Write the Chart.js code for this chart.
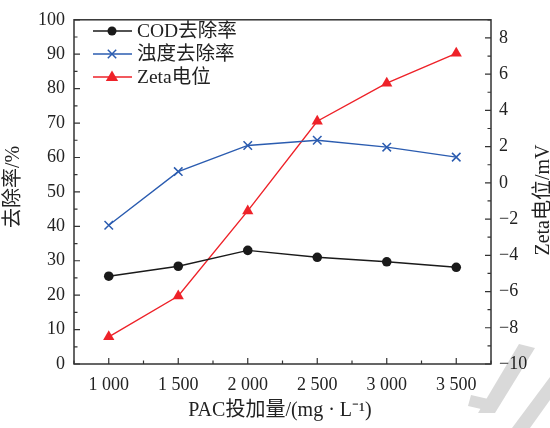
<!DOCTYPE html>
<html>
<head>
<meta charset="utf-8">
<script src="https://cdn.jsdelivr.net/npm/chart.js@4/dist/chart.umd.min.js"></script>
<style>
  html, body { margin: 0; padding: 0; background: #fff; }
  #wrap { width: 550px; height: 428px; }
</style>
</head>
<body>
<div id="wrap"><canvas id="chart" width="550" height="428"></canvas></div>
<script>
// datos
const dosis = [1000, 1500, 2000, 2500, 3000, 3500];
const codRemocion = [25.5, 28.4, 33.0, 31.0, 29.7, 28.1];
const turbidezRemocion = [40.3, 55.9, 63.5, 65.0, 63.0, 60.1];
const zeta = [-8.5, -6.25, -1.55, 3.4, 5.5, 7.15];

const etiquetas = ['COD去除率', '浊度去除率', 'Zeta电位'];
const colores = ['#1a1a1a', '#2b5cb0', '#ee2229'];

const fuente = "'Liberation Serif', 'Noto Sans CJK SC', serif";

function pares(ys) {
    return dosis.map((x, i) => ({ x: x, y: ys[i] }));
}

function formatoMiles(v) {
    const s = String(v);
    return s.length > 3 ? s.slice(0, s.length - 3) + ' ' + s.slice(-3) : s;
}

function dibujarMarcador(ctx, tipo, x, y, color) {
    ctx.save();
    ctx.fillStyle = color;
    ctx.strokeStyle = color;
    ctx.lineWidth = 1.5;
    ctx.beginPath();
    if (tipo === 'circle') {
        ctx.arc(x, y, 4.5, 0, Math.PI * 2);
        ctx.fill();
    } else if (tipo === 'crossRot') {
        const r = 4.2;
        ctx.moveTo(x - r, y - r); ctx.lineTo(x + r, y + r);
        ctx.moveTo(x + r, y - r); ctx.lineTo(x - r, y + r);
        ctx.stroke();
    } else {
        const r = 6.5;
        ctx.moveTo(x, y - r);
        ctx.lineTo(x + r * 0.95, y + r * 0.6);
        ctx.lineTo(x - r * 0.95, y + r * 0.6);
        ctx.closePath();
        ctx.fill();
    }
    ctx.restore();
}

// marca de agua gris de fondo
const marcaAgua = {
    id: 'marcaAgua',
    beforeDraw(chart) {
        const ctx = chart.ctx;
        ctx.save();
        ctx.fillStyle = '#d9d9d9';
        ctx.beginPath();
        ctx.moveTo(478, 413); ctx.lineTo(519, 344); ctx.lineTo(535, 348); ctx.lineTo(495, 413);
        ctx.closePath(); ctx.fill();
        ctx.beginPath();
        ctx.moveTo(471, 395); ctx.lineTo(497, 401); ctx.lineTo(494, 412); ctx.lineTo(468, 406);
        ctx.closePath(); ctx.fill();
        ctx.beginPath();
        ctx.moveTo(512, 428); ctx.lineTo(550, 377); ctx.lineTo(550, 400); ctx.lineTo(530, 428);
        ctx.closePath(); ctx.fill();
        ctx.restore();
    }
};

// marco, ticks hacia dentro, títulos y leyenda
const decoracion = {
    id: 'decoracion',
    afterDraw(chart) {
        const ctx = chart.ctx;
        const a = chart.chartArea;
        const sx = chart.scales.x, sy = chart.scales.y, sy1 = chart.scales.y1;
        ctx.save();
        ctx.strokeStyle = '#333';
        ctx.lineWidth = 1.5;
        ctx.strokeRect(a.left, a.top, a.right - a.left, a.bottom - a.top);

        ctx.lineWidth = 1.2;
        ctx.beginPath();
        sx.ticks.forEach(t => {
            const px = sx.getPixelForValue(t.value);
            const len = t.value % 500 === 0 ? 6 : 3.5;
            ctx.moveTo(px, a.bottom); ctx.lineTo(px, a.bottom - len);
        });
        sy.ticks.forEach(t => {
            const py = sy.getPixelForValue(t.value);
            const len = t.value % 10 === 0 ? 6 : 3.5;
            ctx.moveTo(a.left, py); ctx.lineTo(a.left + len, py);
        });
        sy1.ticks.forEach(t => {
            const py = sy1.getPixelForValue(t.value);
            const len = t.value % 2 === 0 ? 6 : 3.5;
            ctx.moveTo(a.right, py); ctx.lineTo(a.right - len, py);
        });
        ctx.stroke();

        ctx.fillStyle = '#222';
        ctx.font = '20px ' + fuente;
        ctx.textAlign = 'center';
        ctx.textBaseline = 'middle';
        ctx.fillText('PAC投加量/(mg · L⁻¹)', 280, 411);

        ctx.save();
        ctx.translate(14, 187);
        ctx.rotate(-Math.PI / 2);
        ctx.fillText('去除率/%', 0, 0);
        ctx.restore();

        ctx.save();
        ctx.translate(544, 200);
        ctx.rotate(-Math.PI / 2);
        ctx.fillText('Zeta电位/mV', 0, 0);
        ctx.restore();

        // leyenda
        const tipos = ['circle', 'crossRot', 'triangle'];
        const ys = [31, 54, 77];
        ctx.font = '19.5px ' + fuente;
        ctx.textAlign = 'left';
        etiquetas.forEach((txt, i) => {
            ctx.strokeStyle = colores[i];
            ctx.lineWidth = 1.4;
            ctx.beginPath();
            ctx.moveTo(93, ys[i]); ctx.lineTo(132, ys[i]);
            ctx.stroke();
            dibujarMarcador(ctx, tipos[i], 112, ys[i], colores[i]);
            ctx.fillStyle = '#222';
            ctx.fillText(txt, 137, ys[i] + 1);
        });
        ctx.restore();
    }
};

const ejeTicks = { family: fuente, size: 18 };

const ctx = document.getElementById('chart').getContext('2d');
new Chart(ctx, {
    type: 'line',
    data: {
        datasets: [
            {
                label: etiquetas[0],
                data: pares(codRemocion),
                yAxisID: 'y',
                borderColor: colores[0],
                backgroundColor: colores[0],
                borderWidth: 1.4,
                pointStyle: 'circle',
                pointRadius: 4.8,
                pointBorderWidth: 0
            },
            {
                label: etiquetas[1],
                data: pares(turbidezRemocion),
                yAxisID: 'y',
                borderColor: colores[1],
                backgroundColor: colores[1],
                borderWidth: 1.4,
                pointStyle: 'crossRot',
                pointRadius: 6,
                pointBorderWidth: 1.5
            },
            {
                label: etiquetas[2],
                data: pares(zeta),
                yAxisID: 'y1',
                borderColor: colores[2],
                backgroundColor: colores[2],
                borderWidth: 1.4,
                pointStyle: 'triangle',
                pointRadius: 6.5,
                pointBorderWidth: 0
            }
        ]
    },
    options: {
        responsive: false,
        animation: false,
        layout: { padding: { top: 15, left: 0, right: 0, bottom: 0 } },
        plugins: {
            legend: { display: false },
            tooltip: { enabled: false }
        },
        scales: {
            x: {
                type: 'linear',
                min: 750,
                max: 3750,
                afterFit: s => { s.height = 64; },
                grid: { display: false, drawTicks: false },
                border: { display: false },
                ticks: {
                    stepSize: 250,
                    autoSkip: false,
                    maxRotation: 0,
                    padding: 10,
                    color: '#222',
                    font: ejeTicks,
                    callback: v => v % 500 === 0 && v >= 1000 && v <= 3500 ? formatoMiles(v) : ''
                }
            },
            y: {
                position: 'left',
                min: 0,
                max: 100,
                afterFit: s => { s.width = 74; },
                grid: { display: false, drawTicks: false },
                border: { display: false },
                ticks: {
                    stepSize: 5,
                    autoSkip: false,
                    padding: 9,
                    color: '#222',
                    font: ejeTicks,
                    callback: v => v % 10 === 0 ? String(v) : ''
                }
            },
            y1: {
                position: 'right',
                min: -10,
                max: 9,
                afterFit: s => { s.width = 59; },
                grid: { display: false, drawTicks: false },
                border: { display: false },
                ticks: {
                    stepSize: 1,
                    autoSkip: false,
                    padding: 8,
                    color: '#222',
                    font: ejeTicks,
                    callback: v => v % 2 === 0 ? String(v).replace('-', '−') : ''
                }
            }
        }
    },
    plugins: [marcaAgua, decoracion]
});
</script>
</body>
</html>
